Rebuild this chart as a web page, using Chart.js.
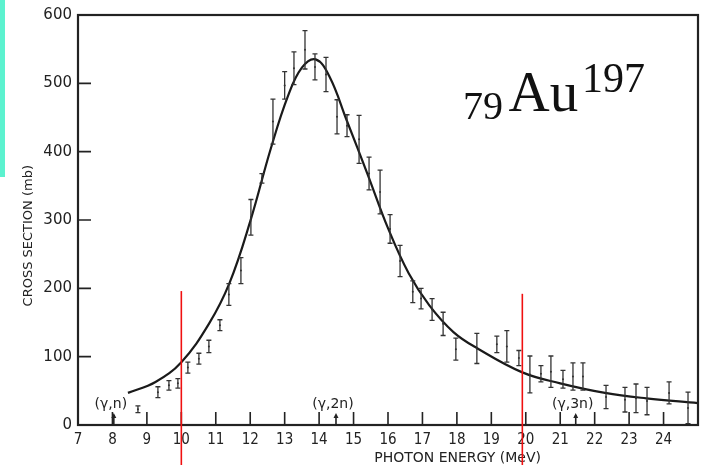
<!DOCTYPE html>
<html>
<head>
<meta charset="utf-8">
<script src="https://cdn.jsdelivr.net/npm/chart.js@4.4.1/dist/chart.umd.min.js"></script>
<style>
  body { margin: 0; background: #fff; }
  #wrap { position: relative; width: 706px; height: 465px; }
  #strip { position: absolute; left: 0; top: 0; width: 5px; height: 177px; background: #5cf2cf; }
</style>
</head>
<body>
<div id="wrap">
  <canvas id="au_chart" width="706" height="465"></canvas>
  <div id="strip"></div>
</div>
<script>
// measured cross sections (MeV, mb) with symmetric errors
const energy = [8.74, 9.32, 9.64, 9.90, 10.19, 10.51, 10.80, 11.12, 11.38, 11.73, 12.02, 12.34, 12.66,
  13.00, 13.27, 13.59, 13.88, 14.20, 14.52, 14.81, 15.16, 15.45, 15.77, 16.06, 16.35, 16.72, 16.96,
  17.28, 17.60, 17.97, 18.58, 19.16, 19.45, 19.80, 20.12, 20.44, 20.73, 21.08, 21.37, 21.66, 22.33,
  22.88, 23.20, 23.52, 24.16, 24.71];
const sigma = [23, 48, 58, 61, 84, 97, 115, 146, 191, 226, 304, 361, 444,
  497, 522, 549, 524, 513, 451, 438, 418, 368, 341, 287, 240, 195, 185,
  169, 148, 111, 112, 118, 115, 98, 74, 75, 78, 67, 71, 71, 41,
  37, 39, 35, 47, 25];
const sigmaErr = [5, 8, 7, 7, 8, 8, 9, 8, 16, 19, 26, 7, 33,
  20, 24, 28, 19, 25, 25, 16, 35, 24, 32, 21, 23, 16, 15,
  16, 17, 16, 22, 12, 23, 11, 27, 12, 23, 13, 20, 20, 17,
  18, 21, 20, 16, 23];

// smooth resonance curve
const fitEnergy = [8.45, 9.25, 10.0, 10.8, 11.4, 12.0, 12.6, 13.1, 13.5,
  13.9, 14.3, 14.8, 15.4, 16.0, 16.6, 17.2, 17.9, 18.6, 19.9, 21.0,
  22.3, 23.5, 25.0];
const fitSigma = [47, 63, 92, 148, 208, 298, 405, 482, 523,
  535, 510, 446, 368, 288, 222, 175, 136, 112, 77, 61,
  47, 39, 32];

const xTickLabels = ['7','8','9','10','11','12','13','14','15','16','17','18','19','20','21','22','23','24'];
const yTickLabels = ['0','100','200','300','400','500','600'];

// reaction thresholds and marked energies
const thresholdLabels = ['(γ,n)', '(γ,2n)', '(γ,3n)'];
const thresholdEnergy = [8.04, 14.49, 21.45];
const markerEnergy = [10, 19.9];
const markerTop = [196, 192];

const ink = '#222';

const frame = {
  id: 'frame',
  afterDatasetsDraw(chart) {
    const { ctx, chartArea: a, scales: { x, y } } = chart;
    ctx.save();

    // error bars
    ctx.strokeStyle = '#333';
    ctx.lineWidth = 1.3;
    energy.forEach((e, i) => {
      const px = x.getPixelForValue(e);
      const lo = y.getPixelForValue(sigma[i] - sigmaErr[i]);
      const hi = y.getPixelForValue(sigma[i] + sigmaErr[i]);
      ctx.beginPath();
      ctx.moveTo(px, lo); ctx.lineTo(px, hi);
      ctx.moveTo(px - 2.5, lo); ctx.lineTo(px + 2.5, lo);
      ctx.moveTo(px - 2.5, hi); ctx.lineTo(px + 2.5, hi);
      ctx.stroke();
    });

    // box and inward ticks
    ctx.strokeStyle = ink;
    ctx.lineWidth = 2.2;
    ctx.strokeRect(a.left, a.top, a.right - a.left, a.bottom - a.top);
    ctx.lineWidth = 1.6;
    ctx.beginPath();
    for (let v = 100; v < 600; v += 100) {
      const py = y.getPixelForValue(v);
      ctx.moveTo(a.left, py); ctx.lineTo(a.left + 13, py);
    }
    for (let v = 8; v < 25; v++) {
      const px = x.getPixelForValue(v);
      ctx.moveTo(px, a.bottom); ctx.lineTo(px, a.bottom - 13);
    }
    ctx.stroke();

    // threshold labels with arrows
    ctx.fillStyle = ink;
    ctx.font = '14px "DejaVu Sans"';
    ctx.textAlign = 'center';
    ctx.textBaseline = 'alphabetic';
    thresholdLabels.forEach((t, i) => {
      const px = x.getPixelForValue(thresholdEnergy[i]);
      ctx.fillText(t, px - 3, a.bottom - 17);
      ctx.beginPath();
      ctx.moveTo(px, a.bottom); ctx.lineTo(px, a.bottom - 10);
      ctx.stroke();
      ctx.beginPath();
      ctx.moveTo(px - 2.5, a.bottom - 7); ctx.lineTo(px, a.bottom - 12); ctx.lineTo(px + 2.5, a.bottom - 7);
      ctx.closePath();
      ctx.fill();
    });

    // axis titles
    ctx.font = '14px "DejaVu Sans"';
    ctx.fillText('PHOTON ENERGY (MeV)', x.getPixelForValue(18.02), 462);
    ctx.save();
    ctx.translate(32, y.getPixelForValue(277));
    ctx.rotate(-Math.PI / 2);
    ctx.font = '13px "DejaVu Sans"';
    ctx.fillText('CROSS SECTION (mb)', 0, 0);
    ctx.restore();

    // nuclide label
    ctx.fillStyle = '#111';
    ctx.textAlign = 'left';
    ctx.font = '40px "Liberation Serif"';
    ctx.fillText('79', x.getPixelForValue(18.18), y.getPixelForValue(448));
    ctx.font = '57px "Liberation Serif"';
    ctx.fillText('Au', x.getPixelForValue(19.5), y.getPixelForValue(459));
    ctx.font = '42px "Liberation Serif"';
    ctx.fillText('197', x.getPixelForValue(21.63), y.getPixelForValue(488));

    // red energy markers
    ctx.strokeStyle = '#f01010';
    ctx.lineWidth = 1.6;
    markerEnergy.forEach((e, i) => {
      const px = x.getPixelForValue(e);
      ctx.beginPath();
      ctx.moveTo(px, y.getPixelForValue(markerTop[i]));
      ctx.lineTo(px, chart.height);
      ctx.stroke();
    });
    ctx.restore();
  }
};

const au_chart = new Chart(document.getElementById('au_chart').getContext('2d'), {
  type: 'scatter',
  data: {
    datasets: [{
      label: 'fit',
      data: fitEnergy.map((e, i) => ({ x: e, y: fitSigma[i] })),
      showLine: true,
      borderColor: '#1a1a1a',
      borderWidth: 2.2,
      pointRadius: 0,
      tension: 0.4
    }, {
      label: 'measured',
      data: energy.map((e, i) => ({ x: e, y: sigma[i] })),
      pointRadius: 1,
      backgroundColor: '#333',
      borderWidth: 0
    }]
  },
  options: {
    responsive: false,
    animation: false,
    layout: { padding: { left: 0, top: 13, right: 8, bottom: 0 } },
    plugins: { legend: { display: false }, tooltip: { enabled: false } },
    scales: {
      x: {
        type: 'linear',
        min: 7,
        max: 25,
        afterFit(scale) { scale.height = 40; },
        grid: { display: false, drawTicks: false },
        border: { display: false },
        ticks: {
          stepSize: 1,
          autoSkip: false,
          maxRotation: 0,
          padding: 6,
          color: ink,
          font: { family: '"Liberation Sans Narrow", "DejaVu Sans Condensed", sans-serif', size: 15 },
          callback: v => xTickLabels[v - 7] ?? ''
        }
      },
      y: {
        min: 0,
        max: 600,
        afterFit(scale) { scale.width = 78; },
        grid: { display: false, drawTicks: false },
        border: { display: false },
        ticks: {
          stepSize: 100,
          padding: 6,
          color: ink,
          font: { family: '"DejaVu Sans"', size: 15 },
          callback: (v, i) => yTickLabels[i]
        }
      }
    }
  },
  plugins: [frame]
});
</script>
</body>
</html>
